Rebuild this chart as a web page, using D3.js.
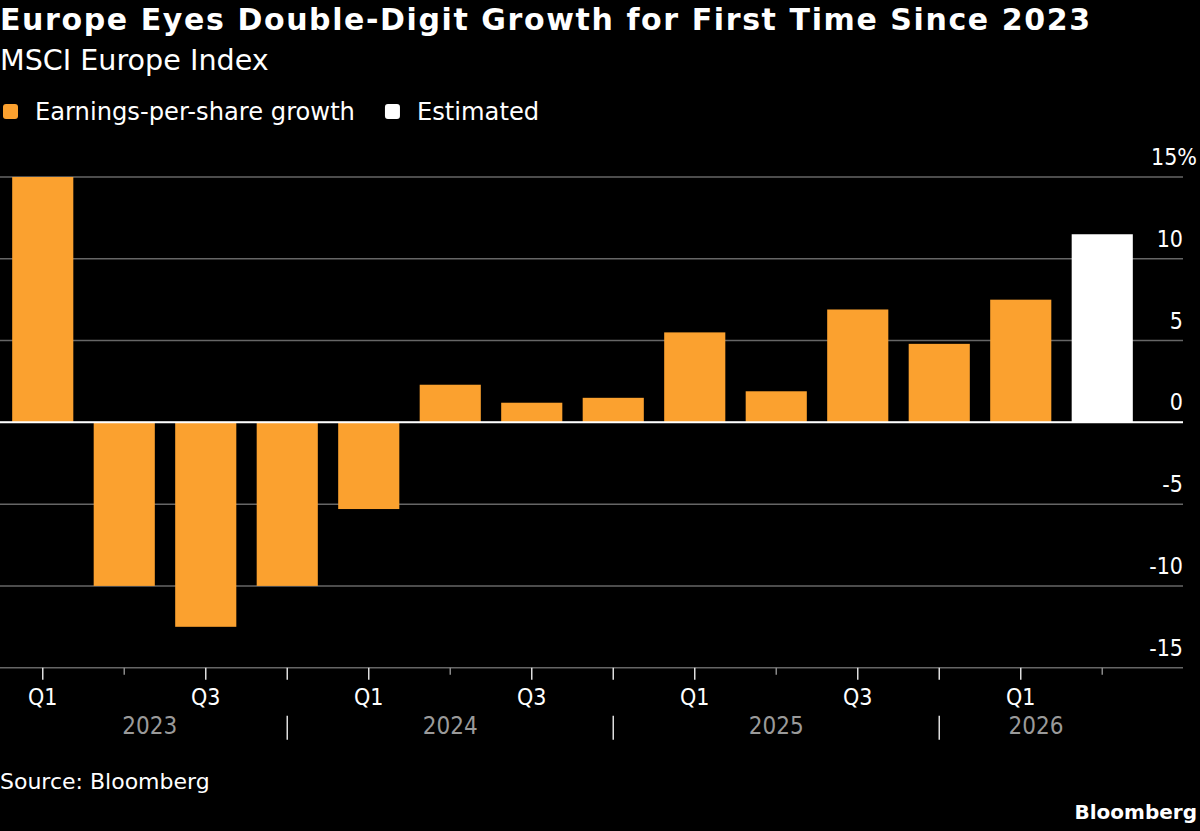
<!DOCTYPE html>
<html>
<head>
<meta charset="utf-8">
<script src="https://cdn.jsdelivr.net/npm/d3@7"></script>
<style>
  body { margin: 0; background: #000; }
  text { font-family: "DejaVu Sans", sans-serif; }
  .cond { font-family: "DejaVu Sans Condensed", "DejaVu Sans", sans-serif; }
</style>
</head>
<body>
<script>
// quarters shown on the axis, Q1 2023 .. Q2 2026
var quarters = ["Q1 2023", "Q2 2023", "Q3 2023", "Q4 2023",
                "Q1 2024", "Q2 2024", "Q3 2024", "Q4 2024",
                "Q1 2025", "Q2 2025", "Q3 2025", "Q4 2025",
                "Q1 2026", "Q2 2026"];
// EPS growth, % (last one is the estimate)
var growth = [15.0, -10.0, -12.5, -10.0, -5.3, 2.3, 1.2, 1.5, 5.5, 1.9, 6.9, 4.8, 7.5, 11.5];
var estimated = [false, false, false, false, false, false, false, false, false, false, false, false, false, true];
var yTicks = [-15, -10, -5, 0, 5, 10, 15];
var years = ["2023", "2024", "2025", "2026"];

var width = 1200, height = 831;
var orange = "#fba12f";

var svg = d3.select("body").append("svg")
    .attr("width", width)
    .attr("height", height);

svg.append("rect").attr("width", width).attr("height", height).attr("fill", "#000");

// title + subtitle
svg.append("text")
    .attr("x", 0).attr("y", 30)
    .attr("fill", "#fff")
    .style("font-size", "30px").style("font-weight", "bold")
    .style("letter-spacing", "1.6px")
    .text("Europe Eyes Double-Digit Growth for First Time Since 2023");
svg.append("text")
    .attr("x", 0).attr("y", 70)
    .attr("fill", "#fff")
    .style("font-size", "28.6px")
    .text("MSCI Europe Index");

// legend
var legend = [{label: "Earnings-per-share growth", color: orange},
              {label: "Estimated", color: "#fff"}];
var lx = 3;
legend.forEach(function (d) {
    var g = svg.append("g").attr("transform", "translate(" + lx + ",104)");
    g.append("rect")
        .attr("width", 15).attr("height", 15).attr("rx", 3)
        .attr("fill", d.color);
    var t = g.append("text")
        .attr("x", 32).attr("y", 16)
        .attr("fill", "#fff")
        .style("font-size", "24.2px")
        .text(d.label);
    lx += 32 + t.node().getComputedTextLength() + 30;
});

// scales
var x = d3.scaleBand()
    .domain(quarters)
    .range([2, 1143])
    .paddingInner(0.25)
    .paddingOuter(0.125);
var y = d3.scaleLinear().domain([-15, 15]).range([667.7, 177]);
var plotRight = 1183;

// gridlines
svg.selectAll(".grid").data(yTicks).enter().append("line")
    .attr("x1", 0).attr("x2", plotRight)
    .attr("y1", function (d) { return y(d); })
    .attr("y2", function (d) { return y(d); })
    .attr("stroke", "#666")
    .attr("stroke-width", 1.5);

// y labels
svg.selectAll(".ylab").data(yTicks).enter().append("text")
    .attr("class", "cond")
    .attr("x", function (d) { return d === 15 ? 1197 : plotRight; })
    .attr("y", function (d) { return y(d) - 12; })
    .attr("text-anchor", "end")
    .attr("fill", "#fff")
    .style("font-size", "23px")
    .text(function (d) { return d === 15 ? d + "%" : d; });

// bars
svg.selectAll(".bar").data(growth).enter().append("rect")
    .attr("x", function (d, i) { return x(quarters[i]); })
    .attr("width", x.bandwidth())
    .attr("y", function (d) { return y(Math.max(0, d)); })
    .attr("height", function (d) { return Math.abs(y(d) - y(0)); })
    .attr("fill", function (d, i) { return estimated[i] ? "#fff" : orange; });

// zero line
svg.append("line")
    .attr("x1", 0).attr("x2", plotRight)
    .attr("y1", y(0)).attr("y2", y(0))
    .attr("stroke", "#fff").attr("stroke-width", 2);

// x ticks
var axisY = y(-15);
quarters.forEach(function (q, i) {
    var cx = x(q) + x.bandwidth() / 2;
    var qn = q.split(" ")[0];
    svg.append("line")
        .attr("x1", cx).attr("x2", cx)
        .attr("y1", axisY).attr("y2", axisY + (qn === "Q2" ? 7 : 12))
        .attr("stroke", qn === "Q2" ? "#888" : "#ddd")
        .attr("stroke-width", 1.5);
    if (qn === "Q4") {
        // year separator in the year row
        svg.append("line")
            .attr("x1", cx).attr("x2", cx)
            .attr("y1", axisY + 48).attr("y2", axisY + 72)
            .attr("stroke", "#ddd").attr("stroke-width", 1.5);
    }
    if (qn === "Q1" || qn === "Q3") {
        svg.append("text")
            .attr("class", "cond")
            .attr("x", cx).attr("y", axisY + 37)
            .attr("text-anchor", "middle")
            .attr("fill", "#fff")
            .style("font-size", "23px")
            .text(qn);
    }
});

// year labels, centred between separators / bar edges
years.forEach(function (yr) {
    var qs = quarters.filter(function (q) { return q.split(" ")[1] === yr; });
    var first = qs[0], last = qs[qs.length - 1];
    var left = first.indexOf("Q1") === 0 && quarters.indexOf(first) > 0
        ? x(quarters[quarters.indexOf(first) - 1]) + x.bandwidth() / 2
        : x(first);
    var right = last.indexOf("Q4") === 0
        ? x(last) + x.bandwidth() / 2
        : x(last) + x.bandwidth();
    svg.append("text")
        .attr("class", "cond")
        .attr("x", (left + right) / 2).attr("y", axisY + 66)
        .attr("text-anchor", "middle")
        .attr("fill", "#9a9a9a")
        .style("font-size", "24px")
        .text(yr);
});

// footer
svg.append("text")
    .attr("x", 0).attr("y", 789)
    .attr("fill", "#fff")
    .style("font-size", "22px")
    .text("Source: Bloomberg");
svg.append("text")
    .attr("x", 1197).attr("y", 819)
    .attr("text-anchor", "end")
    .attr("fill", "#fff")
    .style("font-size", "20px").style("font-weight", "bold")
    .text("Bloomberg");
</script>
</body>
</html>
